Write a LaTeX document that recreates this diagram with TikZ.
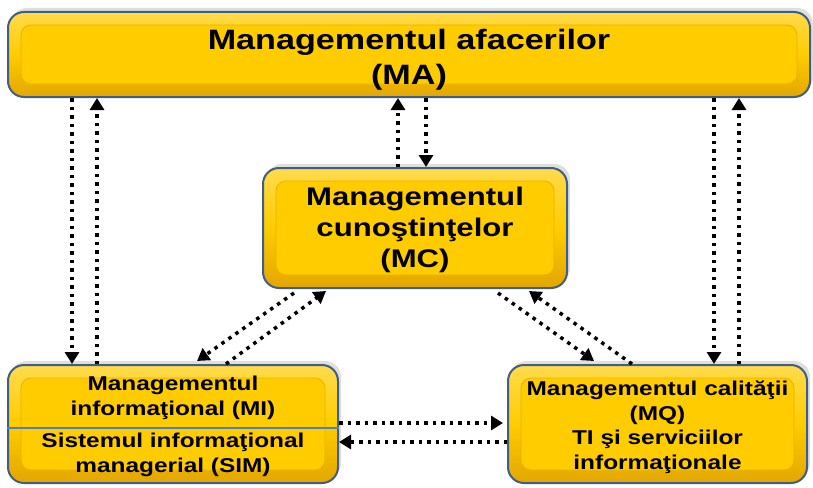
\documentclass[tikz,border=0pt]{standalone}
\usepackage{fontspec}
\setmainfont{Liberation Sans}[FakeStretch=1.22]
\usepackage{tikz}
\usetikzlibrary{arrows.meta,shadows}
\definecolor{gold}{HTML}{FFCC00}
\definecolor{goldrim}{HTML}{E3A600}
\definecolor{goldlite}{HTML}{FFDB4D}
\definecolor{slate}{HTML}{3F5E84}
\definecolor{divblue}{HTML}{4F81BD}

\begin{document}
\begin{tikzpicture}[x=1pt,y=-1pt,
  box/.style={draw=slate,line width=2,rounded corners=16,inner sep=0,
    top color=goldlite,bottom color=goldrim,middle color=gold,
    drop shadow={shadow xshift=3,shadow yshift=-4,opacity=0.25},
    path picture={\draw[goldrim!70!gold,line width=0.8,fill=gold,rounded corners=10]
      ([shift={(13,13)}]path picture bounding box.north west) rectangle
      ([shift={(-13,-13)}]path picture bounding box.south east);}},
  txt/.style={inner sep=0,align=center},
  flow/.style={line width=3.5,dash pattern=on 3.5 off 5,-{Triangle[width=14,length=12]}}]

\useasboundingbox (0,0) rectangle (813,487);

\node[box,minimum width=802,minimum height=85] (ma) at (409,54.5) {};
\node[box,minimum width=304,minimum height=120] (mc) at (415,228) {};
\node[box,minimum width=330,minimum height=118] (mi) at (173,424) {};
\node[box,minimum width=299,minimum height=118] (mq) at (657.5,424) {};

\node[txt,font=\bfseries\fontsize{28}{35}\selectfont] (ma-t) at ([yshift=-5]ma.center) {Managementul afacerilor\\(MA)};
\node[txt,font=\bfseries\fontsize{25.5}{31}\selectfont] (mc-t) at ([yshift=-2]mc.center) {Managementul\\cunoştinţelor\\(MC)};
\node[txt,font=\bfseries\fontsize{20}{25}\selectfont] (mi-t) at ([yshift=-2]mi.center) {Managementul\\informaţional (MI)\\[7pt]Sistemul informaţional\\managerial (SIM)};
\node[txt,font=\bfseries\fontsize{20}{24.5}\selectfont] (mq-t) at ([yshift=-3]mq.center) {Managementul calităţii\\(MQ)\\TI şi serviciilor\\informaţionale};

\draw[divblue,line width=2] ([yshift=-4]mi.west) -- ([yshift=-4]mi.east);

% MA <-> MI
\coordinate (a1) at ([xshift=65]mi.north west);
\coordinate (a2) at ([xshift=90]mi.north west);
\draw[flow] (a1 |- ma.south) -- (a1);
\draw[flow] (a2) -- (a2 |- ma.south);

% MA <-> MQ
\coordinate (b1) at ([xshift=-94]mq.north east);
\coordinate (b2) at ([xshift=-69]mq.north east);
\draw[flow] (b1 |- ma.south) -- (b1);
\draw[flow] (b2) -- (b2 |- ma.south);

% MA <-> MC
\coordinate (c1) at ([xshift=-17]mc.north);
\coordinate (c2) at ([xshift=11]mc.north);
\draw[flow] (c1) -- (c1 |- ma.south);
\draw[flow] (c2 |- ma.south) -- (c2);

% MC <-> MI, MC <-> MQ
\draw[flow] ([xshift=32,yshift=-4]mc.south west) -- ([xshift=190,yshift=3]mi.north west);
\draw[flow] ([xshift=219]mi.north west) -- ([xshift=64,yshift=-2]mc.south west);
\draw[flow] ([xshift=-70,yshift=-4]mc.south east) -- ([xshift=87,yshift=3]mq.north west);
\draw[flow] ([xshift=125]mq.north west) -- ([xshift=-39,yshift=-2]mc.south east);

% MI <-> MQ
\draw[flow] ([yshift=1]mi.east) -- ([xshift=-4,yshift=1]mq.west);
\draw[flow] ([yshift=-18]mq.west) -- ([yshift=-18]mi.east);

\end{tikzpicture}
\end{document}
